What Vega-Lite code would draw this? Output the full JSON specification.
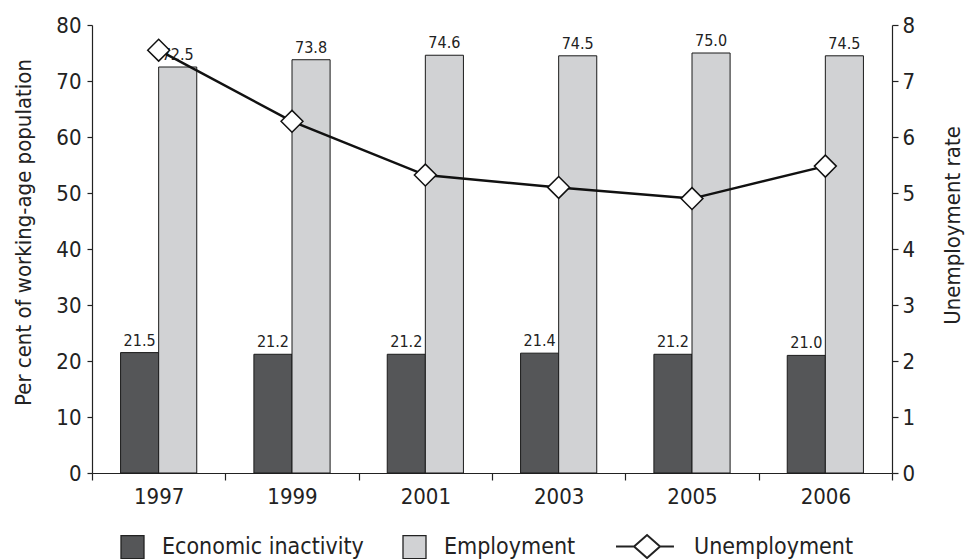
{
  "$schema": "https://vega.github.io/schema/vega-lite/v6.json",
  "width": 800,
  "height": 448,
  "autosize": {"type": "none"},
  "padding": {"left": 92, "top": 25, "right": 73, "bottom": 86},
  "background": "white",
  "config": {
    "font": "DejaVu Sans Condensed, Roboto, Liberation Sans",
    "view": {"stroke": null},
    "axis": {
      "domainColor": "#222222",
      "domainWidth": 1.2,
      "tickColor": "#222222",
      "tickWidth": 1.2,
      "labelColor": "#222222",
      "titleColor": "#222222",
      "labelFontSize": 22,
      "titleFontSize": 22,
      "titleFontWeight": "normal",
      "grid": false
    }
  },
  "data": {
    "values": [
      {"year": "1997", "series": "Economic inactivity", "value": 21.5},
      {"year": "1999", "series": "Economic inactivity", "value": 21.2},
      {"year": "2001", "series": "Economic inactivity", "value": 21.2},
      {"year": "2003", "series": "Economic inactivity", "value": 21.4},
      {"year": "2005", "series": "Economic inactivity", "value": 21.2},
      {"year": "2006", "series": "Economic inactivity", "value": 21.0},
      {"year": "1997", "series": "Employment", "value": 72.5},
      {"year": "1999", "series": "Employment", "value": 73.8},
      {"year": "2001", "series": "Employment", "value": 74.6},
      {"year": "2003", "series": "Employment", "value": 74.5},
      {"year": "2005", "series": "Employment", "value": 75.0},
      {"year": "2006", "series": "Employment", "value": 74.5},
      {"year": "1997", "series": "Unemployment", "value": 7.55},
      {"year": "1999", "series": "Unemployment", "value": 6.28},
      {"year": "2001", "series": "Unemployment", "value": 5.32},
      {"year": "2003", "series": "Unemployment", "value": 5.1},
      {"year": "2005", "series": "Unemployment", "value": 4.9},
      {"year": "2006", "series": "Unemployment", "value": 5.48}
    ]
  },
  "encoding": {
    "x": {
      "field": "year",
      "type": "ordinal",
      "title": null,
      "scale": {"paddingInner": 0, "paddingOuter": 0},
      "axis": {
        "labelAngle": 0,
        "tickBand": "extent",
        "tickSize": 7,
        "labelPadding": 6,
        "encode": {"ticks": {"update": {"y": {"value": -7}}}}
      }
    }
  },
  "layer": [
    {
      "transform": [{"filter": "datum.series !== 'Unemployment'"}],
      "encoding": {
        "xOffset": {
          "field": "series",
          "sort": ["Economic inactivity", "Employment"],
          "scale": {"paddingOuter": 0.75, "paddingInner": 0}
        },
        "y": {
          "field": "value",
          "type": "quantitative",
          "scale": {"domain": [0, 80]},
          "axis": {
            "title": "Per cent of working-age population",
            "values": [0, 10, 20, 30, 40, 50, 60, 70, 80],
            "tickSize": 5,
            "labelPadding": 6,
            "titleX": -69,
            "titleY": 207,
            "titleBaseline": "middle",
            "encode": {"ticks": {"update": {"x": {"value": 8}}}}
          }
        }
      },
      "layer": [
        {
          "mark": {"type": "bar", "stroke": "#1a1a1a", "strokeWidth": 1},
          "encoding": {
            "fill": {
              "field": "series",
              "type": "nominal",
              "scale": {
                "domain": ["Economic inactivity", "Employment", "Unemployment"],
                "range": ["#555658", "#d1d2d4", "#ffffff"]
              },
              "legend": {
                "title": null,
                "orient": "none",
                "legendX": 29,
                "legendY": 510,
                "direction": "horizontal",
                "symbolType": "square",
                "symbolSize": 529,
                "symbolStrokeColor": "#222222",
                "symbolStrokeWidth": 1.3,
                "labelFontSize": 23,
                "labelColor": "#222222",
                "labelOffset": 18,
                "labelLimit": 0,
                "columnPadding": 36,
                "encode": {
                  "symbols": {
                    "update": {
                      "shape": {"signal": "datum.value === 'Unemployment' ? 'M-1,0L0.57,0M2.83,0L4.04,0M0.57,0L1.7,-1L2.83,0L1.7,1Z' : 'square'"},
                      "strokeWidth": {"signal": "datum.value === 'Unemployment' ? 2 : 1.3"}
                    }
                  },
                  "labels": {
                    "update": {
                      "dx": {"signal": "datum.value === 'Unemployment' ? 37 : 0"}
                    }
                  }
                }
              }
            }
          }
        },
        {
          "mark": {"type": "text", "baseline": "bottom", "dy": -4, "fontSize": 16, "color": "#222222"},
          "encoding": {
            "text": {"field": "value", "type": "quantitative", "format": ".1f"}
          }
        }
      ]
    },
    {
      "transform": [{"filter": "datum.series === 'Unemployment'"}],
      "mark": {
        "type": "line",
        "color": "#111111",
        "strokeWidth": 2.5,
        "point": {"shape": "diamond", "size": 480, "filled": true, "fill": "#ffffff", "stroke": "#111111", "strokeWidth": 1.5}
      },
      "encoding": {
        "y": {
          "field": "value",
          "type": "quantitative",
          "scale": {"domain": [0, 8]},
          "axis": {
            "orient": "right",
            "title": "Unemployment rate",
            "titleAngle": -90,
            "values": [0, 1, 2, 3, 4, 5, 6, 7, 8],
            "tickSize": 6,
            "labelPadding": 4,
            "titleX": 60,
            "titleY": 200,
            "titleBaseline": "middle",
            "encode": {"ticks": {"update": {"x": {"value": -6}}}}
          }
        }
      }
    }
  ],
  "resolve": {"scale": {"y": "independent"}}
}
